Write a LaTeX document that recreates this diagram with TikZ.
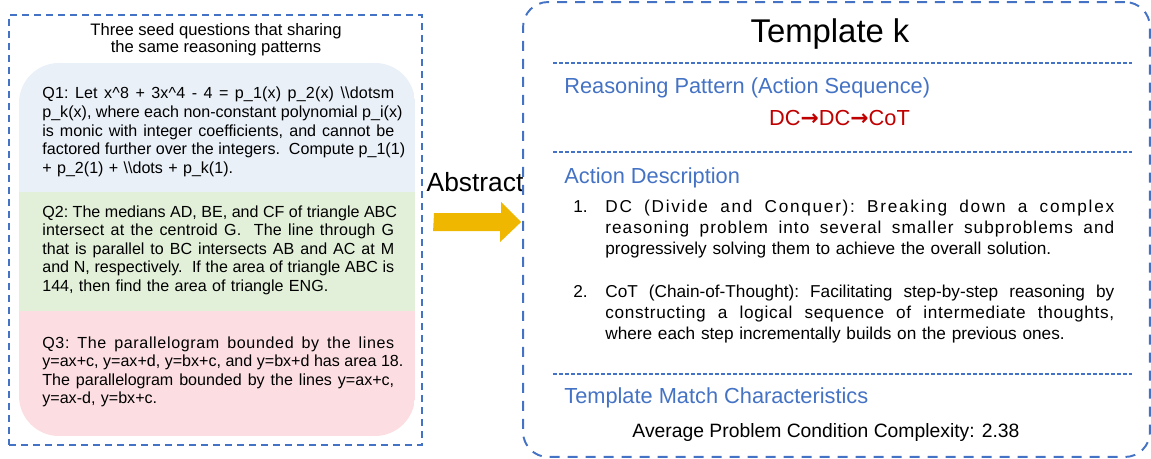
\documentclass[tikz,border=0pt]{standalone}
\usepackage{fontspec}
\setmainfont{Liberation Sans}
\newfontfamily\arrowfont{DejaVu Sans}
\usetikzlibrary{positioning}

\definecolor{frameblue}{RGB}{68,114,196}
\definecolor{seqred}{RGB}{192,0,0}
\definecolor{arrowgold}{RGB}{240,183,0}
\definecolor{qonefill}{RGB}{233,240,248}
\definecolor{qtwofill}{RGB}{226,240,217}
\definecolor{qthreefill}{RGB}{252,222,226}

% lines stretched to the full column, optional letter spacing
\newcommand{\fullline}[3][0]{\leavevmode\hbox to #2{\addfontfeature{LetterSpace=#1}%
    \spaceskip=0.278em plus 1fil\xspaceskip=0.278em plus 1fil #3}}
\newcommand{\qline}[2][0]{\fullline[#1]{7.04cm}{#2}}
\newcommand{\itemline}[2][0]{\fullline[#1]{10.18cm}{#2}}
\newcommand{\seqarrow}{{\arrowfont\bfseries →}}

\tikzset{
  seedframe/.style={draw=frameblue, line width=0.7pt, dash pattern=on 0.14cm off 0.1cm},
  tplframe/.style={draw=frameblue, line width=1.1pt, dash pattern=on 0.2cm off 0.16cm, rounded corners=0.5cm},
  sepline/.style={draw=frameblue, line width=0.6pt, dash pattern=on 0.08cm off 0.04cm},
  qtext/.style={anchor=base west, inner sep=0, text width=7.04cm, align=left, font=\fontsize{9.15}{10.6}\selectfont},
  headtext/.style={anchor=base west, inner sep=0, text=frameblue, font=\fontsize{12.4}{14}\selectfont},
  itemtext/.style={anchor=base west, inner sep=0, text width=10.18cm, align=left, font=\fontsize{9.8}{12.2}\selectfont},
  itemnum/.style={anchor=base west, inner sep=0, font=\fontsize{9.8}{12.2}\selectfont},
}

\begin{document}
\begin{tikzpicture}[x=0.02cm, y=-0.02cm]
    \useasboundingbox (0,0) rectangle (1151,459);

    % seed questions
    \node[seedframe, minimum width=8.26cm, minimum height=8.6cm, inner sep=0] (seedbox) at (215.5,230) {};
    \node[anchor=base, inner sep=0, align=center, font=\fontsize{9.45}{9.7}\selectfont] (seedtitle) at (216,53)
        {Three seed questions that sharing\\the same reasoning patterns};

    \begin{scope}
        \clip[rounded corners=0.8cm] (19,63) rectangle (415,436);
        \fill[qonefill] (19,63) rectangle (415,192);
        \fill[qtwofill] (19,192) rectangle (415,311);
        \fill[qthreefill] (19,311) rectangle (415,436);
    \end{scope}

    \node[qtext] (q1) at (42,99) {%
        \qline[1]{Q1: Let x\textasciicircum 8 + 3x\textasciicircum 4 - 4 = p\_1(x) p\_2(x) \textbackslash\textbackslash dotsm}\\
        \qline{p\_k(x), where each non-constant polynomial p\_i(x)}\\
        \qline{is monic with integer coefficients, and cannot be}\\
        \qline{factored further over the integers.\ \ Compute p\_1(1)}\\
        + p\_2(1) + \textbackslash\textbackslash dots + p\_k(1).};
    \node[qtext] (q2) at (42,217) {%
        \qline{Q2: The medians AD, BE, and CF of triangle ABC}\\
        \qline[1]{intersect at the centroid G.\ \ The line through G}\\
        \qline{that is parallel to BC intersects AB and AC at M}\\
        \qline{and N, respectively.\ \ If the area of triangle ABC is}\\
        144, then find the area of triangle ENG.};
    \node[qtext] (q3) at (42,348) {%
        \qline[4]{Q3: The parallelogram bounded by the lines}\\
        \qline{y=ax+c, y=ax+d, y=bx+c, and y=bx+d has area 18.}\\
        \qline{The parallelogram bounded by the lines y=ax+c,}\\
        y=ax-d, y=bx+c.};

    % abstract arrow
    \node[anchor=base, inner sep=0, font=\fontsize{15}{18}\selectfont] (abstractlabel) at (475,192) {Abstract};

    % template
    \node[tplframe, minimum width=12.54cm, minimum height=9.1cm, inner sep=0] (tplbox) at (836.5,229.5) {};
    \coordinate (arrowtail) at (434,222);
    \coordinate (arrowtip) at ([xshift=-0.02cm]tplbox.west |- arrowtail);
    \fill[arrowgold] (arrowtail) ++(0,-9) -- ++(67,0) -- ++(0,-11) -- (arrowtip) -- ++(-21,20) -- ++(0,-11) -- ++(-67,0) -- cycle;

    \node[anchor=base, inner sep=0, font=\fontsize{18.7}{22}\selectfont] (tpltitle) at (830,43) {Template k};
    \draw[sepline] (553,63) -- (1132,63);
    \node[headtext] (patternhead) at (564,94) {Reasoning Pattern (Action Sequence)};
    \node[anchor=base, inner sep=0, text=seqred, font=\fontsize{12.4}{14}\selectfont] (actionseq) at (839.5,126)
        {DC\seqarrow DC\seqarrow CoT};

    \draw[sepline] (553,152) -- (1132,152);
    \node[headtext] (deschead) at (564,183) {Action Description};
    \node[itemnum] (num1) at (573,212) {1.};
    \node[itemtext] (item1) at (605,212) {%
        \itemline[10]{DC (Divide and Conquer): Breaking down a complex}\\
        \itemline[6]{reasoning problem into several smaller subproblems and}\\
        progressively solving them to achieve the overall solution.};
    \node[itemnum] (num2) at (573,297) {2.};
    \node[itemtext] (item2) at (605,297) {%
        \itemline{CoT (Chain-of-Thought): Facilitating step-by-step reasoning by}\\
        \itemline[4]{constructing a logical sequence of intermediate thoughts,}\\
        where each step incrementally builds on the previous ones.};

    \draw[sepline] (553,374) -- (1132,374);
    \node[headtext] (matchhead) at (564,403) {Template Match Characteristics};
    \node[anchor=base, inner sep=0, font=\fontsize{11}{13}\selectfont] (complexity) at (826,437) {Average Problem Condition Complexity: 2.38};
\end{tikzpicture}
\end{document}
